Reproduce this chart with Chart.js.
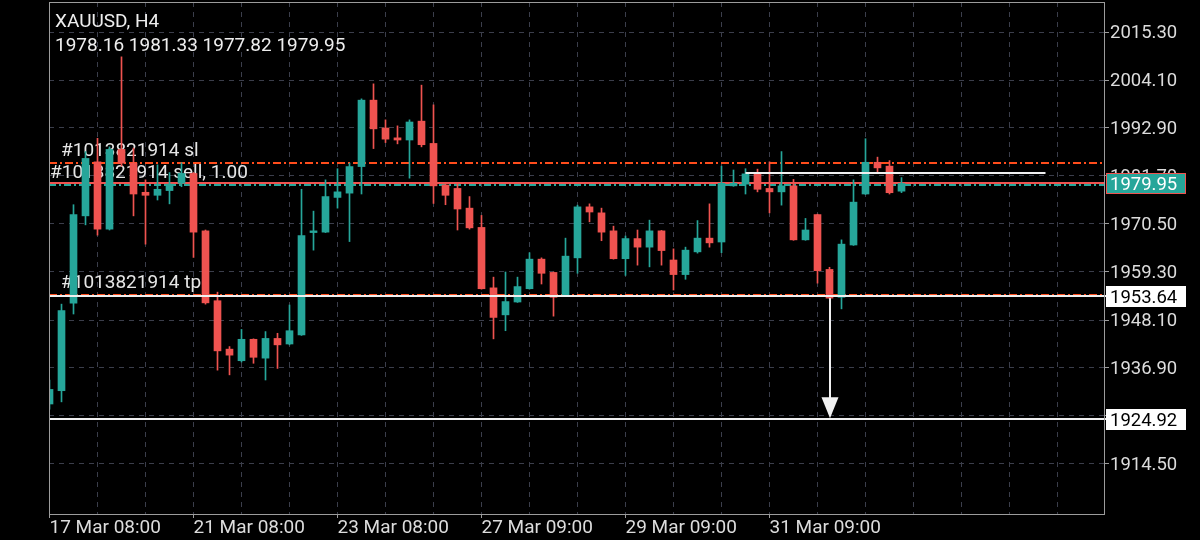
<!DOCTYPE html>
<html>
<head>
<meta charset="utf-8">
<script src="https://cdn.jsdelivr.net/npm/chart.js@4.4.1/dist/chart.umd.min.js"></script>
<style>
  html, body { margin: 0; padding: 0; background: #000; }
  #wrap { width: 1200px; height: 540px; }
  canvas { display: block; }
</style>
</head>
<body>
<div id="wrap"><canvas id="c" width="1200" height="540" style="width:1200px;height:540px"></canvas></div>
<script>
// ---------------- DATA ----------------
const symbolTitle = 'XAUUSD, H4';
const orderTag = '#1013821914';
const orderSide = 'sell, 1.00';

const opens  = [1928.5,1931.6,1952.0,1972.4,1985.0,1969.3,1987.9,1984.7,1977.9,1977.2,1978.3,1980.0,1982.3,1968.9,1952.6,1941.3,1938.6,1943.6,1939.2,1943.8,1942.5,1944.6,1968.5,1968.6,1976.7,1977.7,1983.9,1999.4,1992.9,1990.6,1990.1,1994.5,1989.3,1979.6,1978.8,1974.2,1969.7,1955.6,1949.3,1952.3,1955.4,1962.3,1959.2,1953.7,1962.6,1974.5,1973.1,1968.9,1962.4,1967.1,1965.1,1968.9,1962.1,1958.7,1964.0,1967.2,1966.3,1979.4,1979.8,1982.2,1978.8,1978.0,1979.4,1966.8,1972.7,1959.9,1953.4,1965.6,1977.5,1984.9,1984.0,1978.16];
const highs  = [1934.1,1951.8,1975.0,1987.4,1990.5,1988.5,2009.5,1988.2,1980.8,1984.3,1982.5,1984.8,1982.5,1969.1,1954.6,1941.9,1945.9,1943.7,1945.4,1945.0,1951.6,1978.6,1973.5,1980.8,1983.4,1984.7,1999.7,2003.2,1994.8,1993.4,1994.8,2002.9,1998.3,1979.7,1979.8,1976.9,1972.5,1958.1,1959.3,1958.1,1963.8,1962.6,1959.3,1967.2,1974.9,1975.2,1974.2,1970.0,1967.7,1969.1,1971.4,1969.0,1964.7,1965.1,1971.3,1975.2,1984.0,1983.1,1983.4,1983.3,1985.0,1987.4,1980.9,1971.8,1972.8,1960.4,1966.8,1980.8,1990.4,1986.1,1985.3,1981.33];
const lows   = [1927.3,1929.0,1949.5,1970.3,1967.9,1969.1,1984.0,1972.4,1965.8,1976.1,1975.2,1979.2,1962.7,1951.8,1936.4,1935.3,1938.3,1938.0,1934.1,1936.8,1942.3,1944.5,1964.4,1968.5,1974.2,1966.4,1977.5,1988.1,1989.5,1989.2,1981.2,1988.5,1975.3,1975.0,1969.1,1969.3,1955.3,1943.7,1945.6,1952.2,1955.3,1956.5,1949.0,1953.6,1959.0,1971.0,1966.6,1962.3,1958.5,1960.9,1960.5,1960.9,1955.1,1957.6,1963.7,1965.1,1963.8,1979.3,1977.5,1978.0,1973.1,1974.9,1966.7,1966.7,1956.7,1953.1,1950.7,1965.5,1977.4,1982.5,1977.5,1977.82];
const closes = [1931.9,1950.3,1972.7,1985.8,1969.3,1987.9,1984.7,1977.5,1977.2,1978.6,1979.8,1982.3,1968.6,1952.1,1940.9,1939.9,1943.6,1939.4,1943.8,1942.3,1945.6,1967.8,1968.9,1976.9,1978.0,1983.9,1999.4,1992.7,1990.3,1990.1,1994.3,1989.0,1979.4,1977.2,1974.0,1969.6,1955.4,1948.7,1952.4,1955.9,1962.3,1959.0,1953.4,1963.0,1974.5,1973.3,1968.6,1962.4,1967.1,1965.1,1968.9,1964.3,1958.7,1964.4,1967.2,1966.1,1980.0,1980.0,1982.2,1978.6,1978.0,1979.4,1966.8,1969.1,1959.6,1953.2,1965.8,1975.6,1984.9,1983.6,1977.8,1979.95];

const xTickLabels = ['17 Mar 08:00','21 Mar 08:00','23 Mar 08:00','27 Mar 09:00','29 Mar 09:00','31 Mar 09:00'];
const yTickValues = [2015.30,2004.10,1992.90,1981.70,1970.50,1959.30,1948.10,1936.90,1925.70,1914.50];

const slPrice   = 1984.80;   // stop-loss level
const openLevel = 1979.55;   // position open level
const bidPrice  = 1979.95;   // current price
const tpLevel   = 1953.86;   // take-profit level
const userLine1 = 1953.64;   // drawn horizontal line
const userLine2 = 1924.92;   // drawn horizontal line
const segFrom = 58, segTo = 83, segPrice = 1982.30;     // drawn short horizontal segment
const arrowIdx = 65, arrowFrom = 1953.2, arrowTo = 1924.92; // drawn arrow

// ---------------- STYLE ----------------
const TEAL = '#26a69a', RED = '#ef5350', ORANGE = '#ff4d1c', WHITE = '#f0f0f0';
const GRID = '#3b3e4b', FRAME = '#9c9c9c', TEXT = '#dcdcdc';
const FONT = 'Roboto, "Noto Sans", sans-serif';

const candleColor = (i) => (i === undefined ? TEAL : (closes[i] >= opens[i] ? TEAL : RED));
const bodyData = opens.map((o, i) => ({ x: i, y: [o, closes[i]] }));
const wickData = lows.map((l, i) => ({ x: i, y: [l, highs[i]] }));

const xTicks = [];
for (let v = 0; v <= 84; v += 4) xTicks.push(v);

const overlay = {
  id: 'overlay',
  beforeDraw(chart) {
    const ctx = chart.ctx;
    ctx.save();
    ctx.fillStyle = '#000';
    ctx.fillRect(0, 0, chart.width, chart.height);
    ctx.restore();
  },
  beforeDatasetsDraw(chart) {
    const { ctx, chartArea: a, scales: { y } } = chart;
    const hline = (price, color, width, dash) => {
      const py = Math.round(y.getPixelForValue(price)) + (width % 2 ? 0.5 : 0);
      ctx.save();
      ctx.strokeStyle = color; ctx.lineWidth = width; ctx.setLineDash(dash);
      ctx.beginPath(); ctx.moveTo(a.left, py); ctx.lineTo(a.right, py); ctx.stroke();
      ctx.restore();
      return py;
    };
    const ySl = hline(slPrice, ORANGE, 2, [8, 3, 2, 3]);
    const yTp = hline(tpLevel, ORANGE, 2, [8, 3, 2, 3]);
    const yOpen = hline(openLevel, TEAL, 2, [7, 3, 2, 3]);
    hline(bidPrice, RED, 2, []);

    ctx.save();
    ctx.font = '19px ' + FONT;
    ctx.fillStyle = '#e6e6e6';
    ctx.textBaseline = 'middle';
    ctx.textAlign = 'left';
    ctx.fillText(orderTag + ' sl', 61, ySl - 12);
    ctx.fillText(orderTag + ' ' + orderSide, 50, yOpen - 12);
    ctx.fillText(orderTag + ' tp', 61, yTp - 12);
    ctx.restore();
  },
  afterDatasetsDraw(chart) {
    const { ctx, chartArea: a, scales: { x, y } } = chart;
    const full = (price) => {
      const py = Math.round(y.getPixelForValue(price));
      ctx.save();
      ctx.strokeStyle = WHITE; ctx.lineWidth = 2;
      ctx.beginPath(); ctx.moveTo(a.left, py); ctx.lineTo(a.right + 2, py); ctx.stroke();
      ctx.restore();
    };
    full(userLine1);
    full(userLine2);
    {
      const py = Math.round(y.getPixelForValue(segPrice));
      ctx.save();
      ctx.strokeStyle = WHITE; ctx.lineWidth = 2;
      ctx.beginPath(); ctx.moveTo(x.getPixelForValue(segFrom), py); ctx.lineTo(x.getPixelForValue(segTo), py); ctx.stroke();
      ctx.restore();
    }
    {
      const px = Math.round(x.getPixelForValue(arrowIdx));
      const y0 = y.getPixelForValue(arrowFrom);
      const y1 = y.getPixelForValue(arrowTo) - 1;
      ctx.save();
      ctx.fillStyle = WHITE;
      ctx.fillRect(px - 1, y0, 2, (y1 - 20) - y0);
      ctx.beginPath();
      ctx.moveTo(px - 8.5, y1 - 21);
      ctx.lineTo(px + 8.5, y1 - 21);
      ctx.lineTo(px, y1);
      ctx.closePath();
      ctx.fill();
      ctx.restore();
    }
    ctx.save();
    ctx.strokeStyle = FRAME; ctx.lineWidth = 1;
    ctx.strokeRect(a.left + 0.5, a.top + 0.5, a.right - a.left, a.bottom - a.top);
    ctx.restore();
    const box = (price, fill, stroke, color) => {
      const cy = y.getPixelForValue(price);
      const top = Math.round(cy - 10.5);
      ctx.save();
      ctx.fillStyle = fill;
      ctx.fillRect(1106, top, 80, 21);
      if (stroke) { ctx.strokeStyle = stroke; ctx.lineWidth = 1; ctx.strokeRect(1106.5, top + 0.5, 79, 20); }
      ctx.fillStyle = color;
      ctx.font = '18.5px ' + FONT;
      ctx.textBaseline = 'middle';
      ctx.textAlign = 'left';
      ctx.fillText(price.toFixed(2), 1110, top + 12);
      ctx.restore();
    };
    box(bidPrice, TEAL, RED, '#ffffff');
    box(userLine1, '#ffffff', null, '#000000');
    box(userLine2, '#ffffff', null, '#000000');
    ctx.save();
    ctx.font = '19px ' + FONT;
    ctx.fillStyle = '#eeeeee';
    ctx.textBaseline = 'middle';
    ctx.textAlign = 'left';
    ctx.fillText(symbolTitle, 55, 22);
    const last = opens.length - 1;
    ctx.fillText([opens[last], highs[last], lows[last], closes[last]].map(v => v.toFixed(2)).join(' '), 55, 46);
    ctx.restore();
  }
};

new Chart(document.getElementById('c'), {
  type: 'bar',
  data: {
    datasets: [
      { label: 'body', data: bodyData, backgroundColor: (c) => candleColor(c.dataIndex), barThickness: 7,
        grouped: false, minBarLength: 1, borderWidth: 0, order: 0 },
      { label: 'wick', data: wickData, backgroundColor: (c) => candleColor(c.dataIndex), barThickness: 1,
        grouped: false, borderWidth: 0, order: 1 }
    ]
  },
  options: {
    responsive: false,
    animation: false,
    devicePixelRatio: 1,
    layout: { padding: { left: 49, top: 2, right: 0, bottom: 0 } },
    plugins: { legend: { display: false }, tooltip: { enabled: false } },
    scales: {
      x: {
        type: 'linear',
        offset: false,
        min: -0.5 / 12,
        max: -0.5 / 12 + 1055 / 12,
        afterBuildTicks: (s) => { s.ticks = xTicks.map(v => ({ value: v })); },
        afterFit: (s) => { s.height = 26; s.paddingLeft = 0; s.paddingRight = 0; },
        border: { display: false, dash: [5, 5] },
        grid: {
          offset: false,
          color: (c) => (c.tick && c.tick.value === 0 ? 'rgba(0,0,0,0)' : GRID),
          borderDash: [5, 5],
          tickLength: 4,
          tickColor: (c) => (c.tick && c.tick.value % 12 === 0 && xTickLabels[c.tick.value / 12] ? FRAME : 'rgba(0,0,0,0)'),
          tickBorderDash: []
        },
        ticks: {
          autoSkip: false, maxRotation: 0, minRotation: 0, align: 'start', padding: 1,
          color: TEXT, font: { family: FONT, size: 19, lineHeight: 1 },
          callback: (v) => (v % 12 === 0 && xTickLabels[v / 12] ? xTickLabels[v / 12] : '')
        }
      },
      y: {
        position: 'right',
        min: 2015.30 - 482 / (48 / 11.2),
        max: 2015.30 + 30 / (48 / 11.2),
        afterBuildTicks: (s) => { s.ticks = yTickValues.map(v => ({ value: v })); },
        afterFit: (s) => { s.width = 96; s.paddingTop = 0; s.paddingBottom = 0; },
        border: { display: false, dash: [5, 5] },
        grid: { color: GRID, borderDash: [5, 5], tickLength: 5, tickColor: FRAME, tickBorderDash: [] },
        ticks: {
          autoSkip: false, padding: 1, labelOffset: 1.5, color: TEXT, font: { family: FONT, size: 18.5 },
          callback: (v) => Number(v).toFixed(2)
        }
      }
    }
  },
  plugins: [overlay]
});
</script>
</body>
</html>
